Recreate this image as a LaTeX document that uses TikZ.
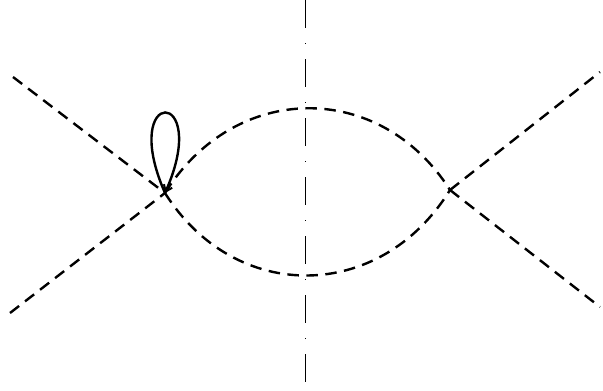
\documentclass[tikz,border=0pt]{standalone}
\usetikzlibrary{arrows.meta}
\begin{document}
\begin{tikzpicture}[x=1pt,y=-1pt,
  prop/.style={line width=2.4pt,dash pattern=on 11.5pt off 7.5pt},
  loopline/.style={line width=2.4pt},
  axisline/.style={line width=0.9pt,dash pattern=on 28pt off 15pt on 1pt off 15pt}]
\useasboundingbox (0,0) rectangle (603,391);
\coordinate (L) at (165,193);
\coordinate (R) at (450,190);
\coordinate (ul) at (13,77);
\coordinate (ll) at (10,313);
\coordinate (ur) at (600,72);
\coordinate (lr) at (600,307);
\coordinate (axtop) at (305,0);
\coordinate (axbot) at (305,386);
\draw[axisline] (axtop) -- (axbot);
\draw[prop] (ul) -- (L);
\draw[prop] (ll) -- (L);
\draw[prop] (R) -- (ur);
\draw[prop] (R) -- (lr);
\draw[prop] (L) .. controls (235,81) and (380,80) .. (R);
\draw[prop] (L) .. controls (235,304) and (380,303) .. (R);
\draw[loopline,-{Straight Barb[length=6pt,width=9pt,line width=2pt]}] (L) .. controls (118,86) and (212,86) .. (L);
\end{tikzpicture}
\end{document}
